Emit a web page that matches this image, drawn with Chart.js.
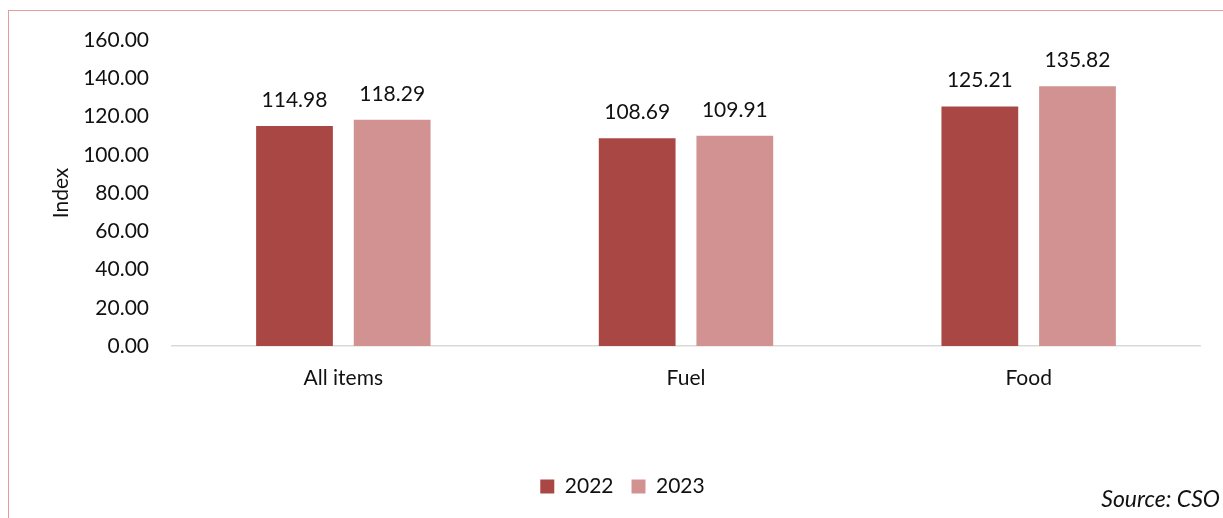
<!DOCTYPE html>
<html>
<head>
<meta charset="utf-8">
<title>Price index</title>
<script src="https://cdn.jsdelivr.net/npm/chart.js@4"></script>
<style>
  html, body { margin: 0; padding: 0; background: #fff; }
  #wrap { position: relative; width: 1223px; height: 518px; overflow: hidden; }
  #frame {
    position: absolute; left: 8px; top: 10px; width: 1300px; height: 600px;
    border-top: 1px solid #e59c9c; border-left: 1px solid #e59c9c;
  }
  #chart { position: absolute; left: 0; top: 0; }
  #source {
    position: absolute; right: 3px; top: 484px;
    font: italic 23px Lato, sans-serif; color: #111;
  }
</style>
</head>
<body>
<div id="wrap">
  <div id="frame"></div>
  <canvas id="chart" width="1223" height="518"></canvas>
  <div id="source">Source: CSO</div>
</div>
<script>
const categories = ["All items", "Fuel", "Food"]
const values2022 = [114.98, 108.69, 125.21]
const values2023 = [118.29, 109.91, 135.82]
const seriesNames = ["2022", "2023"]
const yTicks = [0, 20, 40, 60, 80, 100, 120, 140, 160]

const FONT = "Lato, sans-serif"

// value labels above each bar
const barValues = {
  id: "barValues",
  afterDatasetsDraw(chart) {
    const ctx = chart.ctx
    ctx.save()
    ctx.font = "21px " + FONT
    ctx.fillStyle = "#111"
    ctx.textAlign = "center"
    ctx.textBaseline = "middle"
    chart.data.datasets.forEach((ds, i) => {
      chart.getDatasetMeta(i).data.forEach((bar, j) => {
        ctx.fillText(ds.data[j].toFixed(2), bar.x, bar.y - 26)
      })
    })
    ctx.restore()
  }
}

new Chart(document.getElementById("chart"), {
  type: "bar",
  data: {
    labels: categories,
    datasets: [
      { label: seriesNames[0], data: values2022, backgroundColor: "#a94745" },
      { label: seriesNames[1], data: values2023, backgroundColor: "#d29292" }
    ]
  },
  options: {
    responsive: false,
    animation: false,
    categoryPercentage: 0.57,
    barPercentage: 0.786,
    layout: { padding: { left: 45, right: 23, top: 40, bottom: 11 } },
    plugins: {
      legend: {
        position: "bottom",
        labels: {
          font: { family: FONT, size: 21 },
          color: "#111",
          boxWidth: 14,
          boxHeight: 14,
          padding: 18
        }
      },
      tooltip: { enabled: false }
    },
    scales: {
      x: {
        grid: { display: false },
        border: { color: "#d9d9d9", width: 1.5 },
        ticks: { font: { family: FONT, size: 21 }, color: "#111", padding: 12 },
        afterFit(scale) { scale.height = 112 }
      },
      y: {
        min: 0,
        max: 160,
        afterBuildTicks(scale) { scale.ticks = yTicks.map(v => ({ value: v })) },
        grid: { display: false, drawTicks: false },
        border: { display: false },
        ticks: {
          font: { family: FONT, size: 21 },
          color: "#111",
          padding: 23,
          callback: v => Number(v).toFixed(2)
        },
        title: { display: true, text: "Index", font: { family: FONT, size: 21 }, color: "#111" },
        afterFit(scale) { scale.width = 127 }
      }
    }
  },
  plugins: [barValues]
})
</script>
</body>
</html>
